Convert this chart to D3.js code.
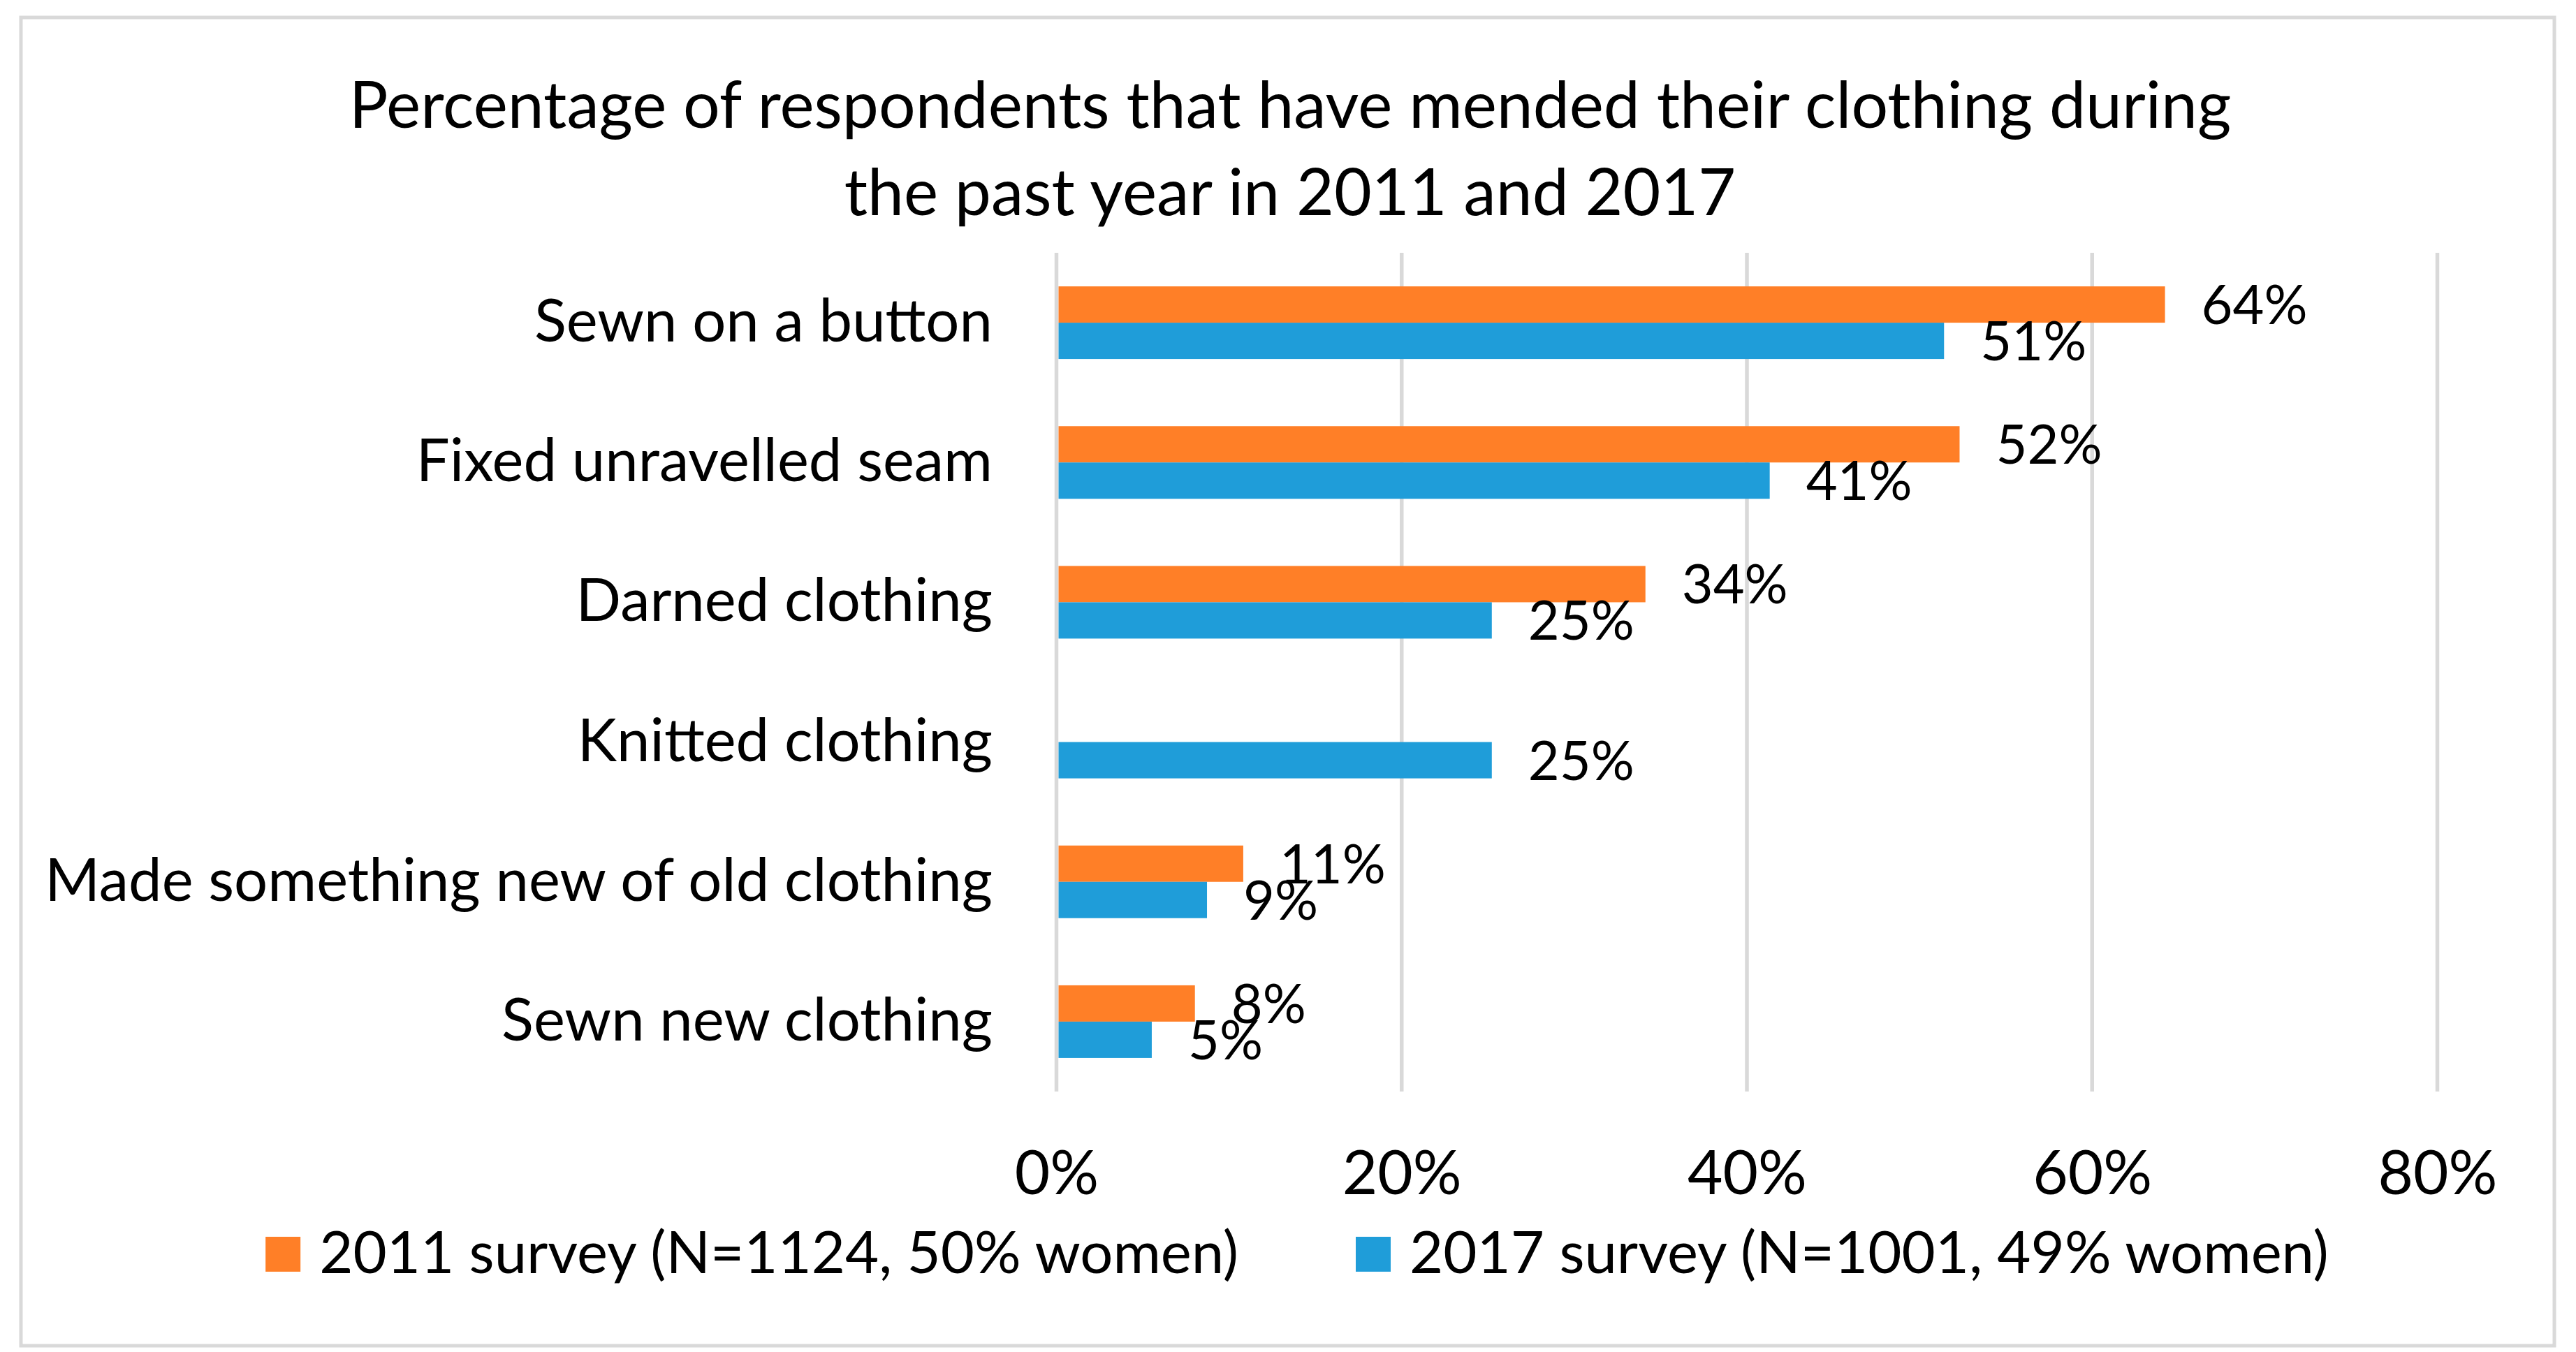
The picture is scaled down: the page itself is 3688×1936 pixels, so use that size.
<!DOCTYPE html>
<html>
<head>
<meta charset="utf-8">
<script src="https://cdn.jsdelivr.net/npm/d3@7"></script>
<style>
  html, body { margin: 0; padding: 0; background: #ffffff; }
  svg { display: block; }
  text { font-family: Lato, "Open Sans", sans-serif; fill: #000; }
</style>
</head>
<body>
<svg id="chart" width="3688" height="1936"></svg>
<script>
// ---- data ----
const titleLines = ["Percentage of respondents that have mended their clothing during", "the past year in 2011 and 2017"];
const categories = ["Sewn on a button", "Fixed unravelled seam", "Darned clothing", "Knitted clothing", "Made something new of old clothing", "Sewn new clothing"];
const seriesNames = ["2011 survey (N=1124, 50% women)", "2017 survey (N=1001, 49% women)"];
const values2011 = [64.1, 52.2, 34.0, null, 10.7, 7.9];
const values2017 = [51.3, 41.2, 25.1, 25.1, 8.6, 5.4];
const tickValues = [0, 20, 40, 60, 80];
const seriesColors = ["#FF7F27", "#1F9DD9"];

// ---- layout ----
const svg = d3.select("#chart");
const plot = { left: 1512.5, right: 3489.5, top: 362, bottom: 1563 };

// font calibration helper: size that makes a string reach a target width
function fitSize(str, base, target) {
  const p = svg.append("text").attr("font-size", base).text(str);
  const w = p.node().getComputedTextLength();
  p.remove();
  return base * target / w;
}
const titleSize = fitSize(titleLines[0], 96, 2695);
const catSize = fitSize(categories[4], 90, 1357);
const legendSize = fitSize(seriesNames[0], 90, 1316);
const scale = titleSize / 96;
const tickSize = 90 * scale;
const valueSize = 80 * scale;

// frame
svg.append("rect").attr("x", 30).attr("y", 25).attr("width", 3627).attr("height", 1902)
  .attr("fill", "#fff").attr("stroke", "#D9D9D9").attr("stroke-width", 5);

// title
svg.append("g").selectAll("text").data(titleLines).join("text")
  .attr("x", 1847).attr("y", (d, i) => 183 + i * 125)
  .attr("text-anchor", "middle").attr("font-size", titleSize).text(d => d);

// scales
const x = d3.scaleLinear().domain([0, 80]).range([plot.left, plot.right]);
const step = (plot.bottom - plot.top) / categories.length;
const pad = 1 - 104 / step;
const y = d3.scaleBand().domain(categories).range([plot.top, plot.bottom]).paddingInner(pad).paddingOuter(pad / 2);
const ySub = d3.scaleBand().domain([0, 1]).range([0, y.bandwidth()]);

// gridlines
svg.append("g").selectAll("line").data(tickValues).join("line")
  .attr("x1", d => x(d)).attr("x2", d => x(d))
  .attr("y1", plot.top).attr("y2", plot.bottom)
  .attr("stroke", "#D9D9D9").attr("stroke-width", 5.5);

// bars
const rows = categories.map((c, i) => ({ cat: c, vals: [values2011[i], values2017[i]] }));
const groups = svg.append("g").selectAll("g").data(rows).join("g")
  .attr("transform", d => `translate(0,${y(d.cat)})`);

const cells = groups.selectAll("g.cell")
  .data(d => d.vals.map((v, s) => ({ v, s })).filter(e => e.v !== null))
  .join("g").attr("class", "cell");

cells.append("rect")
  .attr("x", x(0) + 3)
  .attr("y", d => ySub(d.s))
  .attr("width", d => x(d.v) - x(0))
  .attr("height", ySub.bandwidth())
  .attr("fill", d => seriesColors[d.s]);

cells.append("text")
  .attr("x", d => x(d.v) + 55)
  .attr("y", d => ySub(d.s) + ySub.bandwidth() / 2 + 28)
  .attr("font-size", valueSize)
  .text(d => Math.round(d.v) + "%");

// category labels
svg.append("g").selectAll("text").data(categories).join("text")
  .attr("x", 1421).attr("y", d => y(d) + y.bandwidth() / 2 + 27)
  .attr("text-anchor", "end").attr("font-size", catSize).text(d => d);

// x tick labels
const xAxis = d3.axisBottom(x).tickValues(tickValues).tickFormat(d => d + "%").tickSize(0).tickPadding(0);
const gx = svg.append("g").attr("transform", `translate(0,${plot.bottom})`).call(xAxis);
gx.select(".domain").remove();
gx.selectAll("text").attr("font-size", tickSize).attr("font-family", null)
  .attr("dy", null).attr("y", 1710 - plot.bottom).style("fill", "#000");

// legend
const legend = svg.append("g");
const items = legend.selectAll("g").data(seriesNames).join("g");
items.append("rect").attr("width", 50).attr("height", 50).attr("y", 1771)
  .attr("fill", (d, i) => seriesColors[i]);
items.append("text").attr("x", 77).attr("y", 1823).attr("font-size", legendSize).text(d => d);
const widths = [];
items.each(function() { widths.push(d3.select(this).select("text").node().getComputedTextLength()); });
const gap = 168;
const total = widths.reduce((a, w) => a + 77 + w, 0) + gap * (widths.length - 1);
let cx = 1857 - total / 2;
items.each(function(d, i) {
  d3.select(this).attr("transform", `translate(${cx},0)`);
  cx += 77 + widths[i] + gap;
});
</script>
</body>
</html>
